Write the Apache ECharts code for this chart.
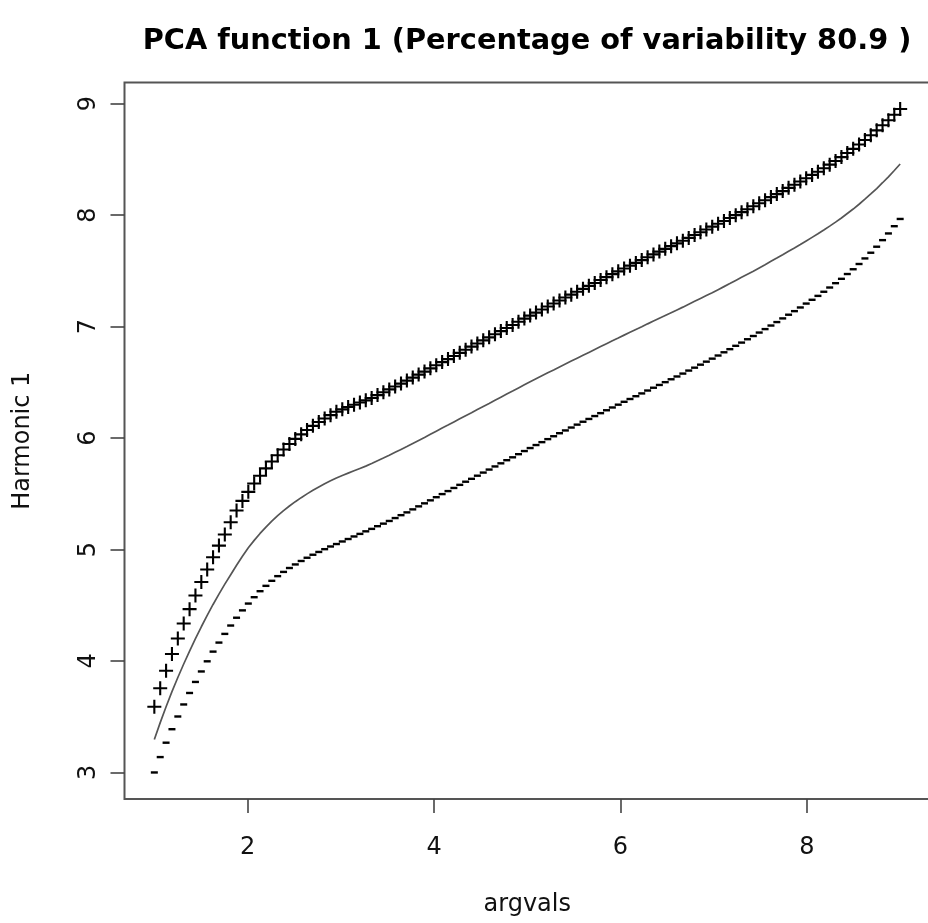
<!DOCTYPE html>
<html>
<head>
<meta charset="utf-8">
<script src="https://cdn.jsdelivr.net/npm/echarts@6/dist/echarts.min.js"></script>
<style>
html,body{margin:0;padding:0;background:#fff;}
#chart{width:928px;height:923px;}
</style>
</head>
<body>
<div id="chart"></div>
<script>
// argvals (128 evaluation points)
const argvals = [1.000,1.063,1.126,1.189,1.252,1.315,1.378,1.441,1.504,1.567,
1.630,1.693,1.756,1.819,1.882,1.945,2.008,2.071,2.134,2.197,
2.260,2.323,2.386,2.449,2.512,2.575,2.638,2.701,2.764,2.827,
2.890,2.953,3.016,3.079,3.142,3.205,3.268,3.331,3.394,3.457,
3.520,3.583,3.646,3.709,3.772,3.835,3.898,3.961,4.024,4.087,
4.150,4.213,4.276,4.339,4.402,4.465,4.528,4.591,4.654,4.717,
4.780,4.843,4.906,4.969,5.031,5.094,5.157,5.220,5.283,5.346,
5.409,5.472,5.535,5.598,5.661,5.724,5.787,5.850,5.913,5.976,
6.039,6.102,6.165,6.228,6.291,6.354,6.417,6.480,6.543,6.606,
6.669,6.732,6.795,6.858,6.921,6.984,7.047,7.110,7.173,7.236,
7.299,7.362,7.425,7.488,7.551,7.614,7.677,7.740,7.803,7.866,
7.929,7.992,8.055,8.118,8.181,8.244,8.307,8.370,8.433,8.496,
8.559,8.622,8.685,8.748,8.811,8.874,8.937,9.000];

// mean function
const meanVals = [3.295,3.447,3.590,3.725,3.852,3.973,4.089,4.200,4.307,4.409,
4.507,4.600,4.689,4.774,4.859,4.940,5.016,5.082,5.144,5.201,
5.254,5.303,5.348,5.390,5.429,5.465,5.499,5.531,5.561,5.589,
5.616,5.642,5.664,5.685,5.706,5.727,5.748,5.772,5.797,5.821,
5.846,5.872,5.898,5.924,5.951,5.978,6.005,6.033,6.061,6.089,
6.116,6.144,6.172,6.200,6.227,6.255,6.283,6.310,6.338,6.366,
6.394,6.421,6.449,6.477,6.504,6.531,6.558,6.585,6.611,6.638,
6.664,6.690,6.716,6.742,6.768,6.794,6.820,6.846,6.872,6.897,
6.923,6.948,6.973,6.998,7.024,7.049,7.074,7.099,7.124,7.149,
7.174,7.200,7.226,7.252,7.278,7.304,7.331,7.358,7.385,7.413,
7.441,7.469,7.497,7.526,7.555,7.585,7.614,7.644,7.675,7.705,
7.736,7.768,7.800,7.832,7.866,7.901,7.937,7.974,8.014,8.054,
8.097,8.142,8.189,8.238,8.290,8.343,8.400,8.458];

// mean + harmonic ("+")
const plusVals = [3.590,3.756,3.913,4.062,4.202,4.336,4.465,4.588,4.708,4.821,
4.930,5.035,5.135,5.245,5.350,5.436,5.517,5.592,5.662,5.728,
5.789,5.845,5.897,5.946,5.992,6.033,6.072,6.109,6.144,6.175,
6.205,6.235,6.257,6.278,6.298,6.318,6.338,6.359,6.385,6.410,
6.436,6.462,6.488,6.515,6.542,6.569,6.596,6.625,6.653,6.681,
6.708,6.736,6.764,6.792,6.820,6.848,6.876,6.903,6.931,6.959,
6.987,7.014,7.043,7.071,7.098,7.125,7.153,7.180,7.206,7.233,
7.260,7.286,7.312,7.338,7.365,7.391,7.417,7.443,7.470,7.495,
7.521,7.546,7.571,7.596,7.622,7.647,7.672,7.697,7.721,7.746,
7.770,7.795,7.821,7.846,7.871,7.896,7.922,7.947,7.973,7.999,
8.026,8.052,8.079,8.106,8.133,8.161,8.188,8.215,8.244,8.272,
8.301,8.330,8.360,8.389,8.420,8.452,8.485,8.520,8.557,8.594,
8.633,8.673,8.716,8.760,8.805,8.851,8.900,8.951];

// mean - harmonic ("-")
const minusVals = [3.000,3.138,3.267,3.388,3.502,3.610,3.713,3.812,3.906,3.997,
4.084,4.165,4.243,4.318,4.388,4.454,4.515,4.572,4.626,4.674,
4.719,4.761,4.799,4.834,4.866,4.897,4.926,4.953,4.978,5.003,
5.027,5.049,5.072,5.094,5.117,5.140,5.163,5.185,5.209,5.232,
5.256,5.282,5.308,5.333,5.360,5.387,5.414,5.441,5.469,5.497,
5.524,5.552,5.580,5.608,5.634,5.662,5.690,5.717,5.745,5.773,
5.801,5.827,5.855,5.883,5.910,5.937,5.963,5.990,6.016,6.043,
6.068,6.094,6.120,6.146,6.171,6.197,6.223,6.249,6.274,6.299,
6.325,6.350,6.375,6.400,6.426,6.451,6.476,6.501,6.527,6.552,
6.578,6.605,6.631,6.658,6.685,6.712,6.740,6.769,6.797,6.827,
6.856,6.886,6.915,6.946,6.977,7.009,7.040,7.073,7.106,7.138,
7.171,7.206,7.240,7.275,7.312,7.350,7.389,7.428,7.471,7.514,
7.561,7.611,7.662,7.716,7.775,7.835,7.900,7.965];

const xTicks = [2, 4, 6, 8];
const yTicks = [3, 4, 5, 6, 7, 8, 9];

const titleText = 'PCA function 1 (Percentage of variability 80.9 )';
const xName = 'argvals';
const yName = 'Harmonic 1';

const FONT = "'DejaVu Sans', sans-serif";

// R-style 4% padding of the data ranges
const allY = plusVals.concat(minusVals);
const yLo = Math.min.apply(null, allY), yHi = Math.max.apply(null, allY);
const xLo = argvals[0], xHi = argvals[argvals.length - 1];
const xPad = (xHi - xLo) * 0.04, yPad = (yHi - yLo) * 0.04;

const pair = (vals) => argvals.map((x, i) => [x, vals[i]]);

const chart = echarts.init(document.getElementById('chart'), null, {renderer: 'canvas'});
chart.setOption({
  animation: false,
  backgroundColor: '#ffffff',
  textStyle: {fontFamily: FONT},
  title: {
    text: titleText,
    left: 527,
    top: 27,
    padding: 0,
    textAlign: 'center',
    textStyle: {fontFamily: FONT, fontSize: 28.8, fontWeight: 'bold', color: '#000'}
  },
  grid: {
    left: 124.5, top: 82.5, width: 805.5, height: 716.5,
    show: true, borderColor: '#555', borderWidth: 2, backgroundColor: 'transparent',
    containLabel: false, outerBoundsMode: 'none'
  },
  xAxis: {
    type: 'value',
    min: xLo - xPad, max: xHi + xPad,
    splitLine: {show: false},
    axisLine: {show: false},
    axisTick: {show: true, customValues: xTicks, length: 14, lineStyle: {color: '#444', width: 1.6}},
    axisLabel: {customValues: xTicks, margin: 37, fontSize: 24, color: '#111', fontFamily: FONT},
    name: xName, nameLocation: 'middle', nameGap: 94,
    nameTextStyle: {fontSize: 24, color: '#111', fontFamily: FONT}
  },
  yAxis: {
    type: 'value',
    min: yLo - yPad, max: yHi + yPad,
    splitLine: {show: false},
    axisLine: {show: false},
    axisTick: {show: true, customValues: yTicks, length: 14, lineStyle: {color: '#444', width: 1.6}},
    axisLabel: {customValues: yTicks, rotate: 90, margin: 24, fontSize: 24, color: '#111', fontFamily: FONT},
    name: yName, nameLocation: 'middle', nameGap: 90,
    nameTextStyle: {fontSize: 24, color: '#111', fontFamily: FONT}
  },
  series: [
    {
      name: 'mean', type: 'line', data: pair(meanVals),
      showSymbol: false, symbol: 'none',
      lineStyle: {color: '#555', width: 1.7}, z: 2
    },
    {
      name: 'plus', type: 'scatter', data: pair(plusVals),
      symbol: 'path://M42.5,0 H57.5 V42.5 H100 V57.5 H57.5 V100 H42.5 V57.5 H0 V42.5 H42.5 Z',
      symbolSize: 14, itemStyle: {color: '#000', opacity: 1}, z: 3
    },
    {
      name: 'minus', type: 'scatter', data: pair(minusVals),
      symbol: 'rect', symbolSize: [7, 2.4],
      itemStyle: {color: '#000', opacity: 1}, z: 3
    }
  ]
});
</script>
</body>
</html>
